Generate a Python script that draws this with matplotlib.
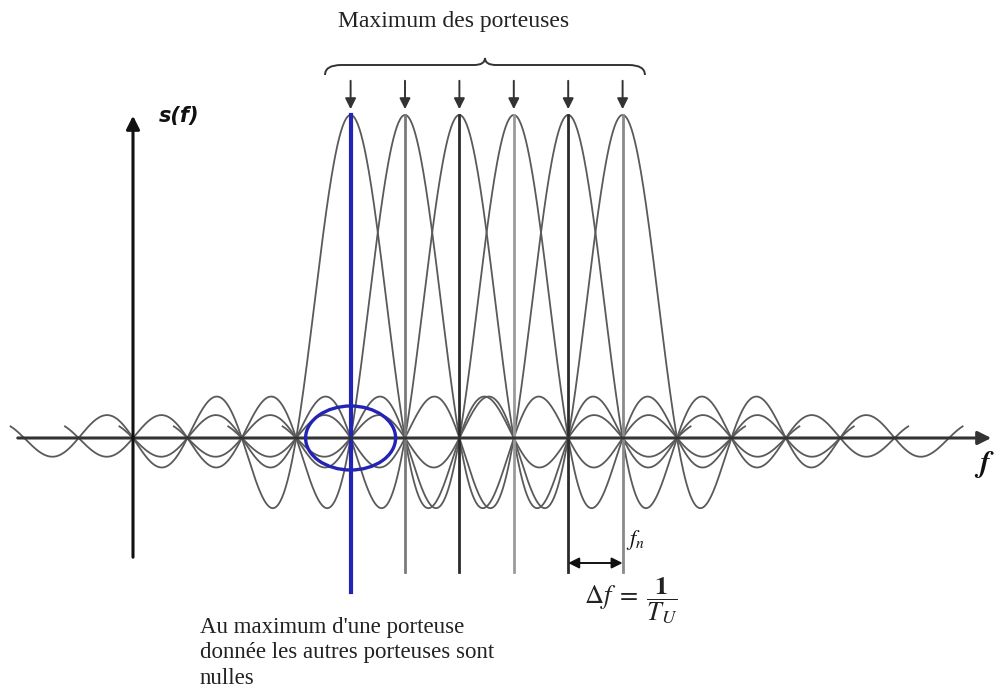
import numpy as np
import matplotlib
matplotlib.use('Agg')
import matplotlib.pyplot as plt
from matplotlib.patches import Ellipse, PathPatch
from matplotlib.path import Path
plt.rcParams['mathtext.fontset'] = 'stix'

# carriers (in units of delta f, origin on the s(f) axis)
carriers = [4, 5, 6, 7, 8, 9]
half_span = 6.25          # each sinc drawn over +/- this many spacings
line_colors = ['#2323b4', '#7a7a7a', '#2b2b2b', '#9a9a9a', '#2b2b2b', '#8a8a8a']
title_txt = 'Maximum des porteuses'
note_txt = "Au maximum d'une porteuse\ndonnée les autres porteuses sont\nnulles"

# pixel geometry of the reference
W, H = 994, 696
X0, DX = 133, 54.4        # x pixel of f=0, pixels per spacing
Y0, AMP = 438, 323        # y pixel of s=0, pixels per unit amplitude

def px(x, y):
    return (x - X0) / DX, (Y0 - y) / AMP

fig = plt.figure(figsize=(W / 100, H / 100), dpi=100)
ax = fig.add_axes([0, 0, 1, 1])
ax.set_xlim(-X0 / DX, (W - X0) / DX)
ax.set_ylim((Y0 - H) / AMP, Y0 / AMP)
ax.axis('off')

# sinc spectra of the carriers
for k in carriers:
    f = np.linspace(k - half_span, k + half_span, 800)
    ax.plot(f, np.sinc(f - k), color='#5a5a5a', lw=1.3, zorder=2)

# vertical lines at each carrier
for i, k in enumerate(carriers):
    bottom = px(0, 592)[1] if i == 0 else px(0, 572)[1]
    ax.plot([k, k], [bottom, 1.0], color=line_colors[i],
            lw=3 if i == 0 else 2, zorder=4 if i == 0 else 3)

# axes with arrows
ax.annotate('', xy=px(994, Y0), xytext=px(15, Y0),
            arrowprops=dict(arrowstyle='-|>', color='#333333', lw=2.2, mutation_scale=20), zorder=5)
ax.annotate('', xy=px(X0, 113), xytext=px(X0, 560),
            arrowprops=dict(arrowstyle='-|>', color='#111111', lw=2.2, mutation_scale=20), zorder=5)

# arrows pointing at carrier maxima
for k in carriers:
    ax.annotate('', xy=(k, px(0, 112)[1]), xytext=(k, px(0, 78)[1]),
                arrowprops=dict(arrowstyle='-|>', color='#333333', lw=1.4, mutation_scale=16))

# brace over the maxima
xl, xr = carriers[0] - 0.47, carriers[-1] + 0.41
xm = (xl + xr) / 2
yb, ye, yt = px(0, 65)[1], px(0, 75)[1], px(0, 58)[1]
verts = [(xl, ye), (xl, yb), (xl + 0.3, yb), (xm - 0.2, yb), (xm, yb), (xm, yt),
         (xm, yb), (xm + 0.2, yb), (xr - 0.3, yb), (xr, yb), (xr, ye)]
codes = [Path.MOVETO, Path.CURVE3, Path.CURVE3, Path.LINETO, Path.CURVE3, Path.CURVE3,
         Path.CURVE3, Path.CURVE3, Path.LINETO, Path.CURVE3, Path.CURVE3]
ax.add_patch(PathPatch(Path(verts, codes), fill=False, ec='#333333', lw=1.4))

# blue ellipse around the first carrier on the axis
ax.add_patch(Ellipse((carriers[0], 0), 90 / DX, 64 / AMP, fill=False,
                     ec='#2323b4', lw=2.4, zorder=6))

# spacing arrow
ya = px(0, 563)[1]
ax.annotate('', xy=(carriers[-1], ya), xytext=(carriers[-2], ya),
            arrowprops=dict(arrowstyle='<|-|>', color='#111111', lw=1.4, mutation_scale=16,
                            shrinkA=0, shrinkB=0))

# texts
serif = 'Liberation Serif'
ax.text(*px(454, 27), title_txt, family=serif, fontsize=17, ha='center', va='baseline', color='#222222')
ax.text(*px(159, 116), 's(f)', family='DejaVu Sans', fontsize=15, fontweight='bold',
        style='italic', ha='left', va='center', color='#111111')
ax.text(*px(984, 465), '$\\boldsymbol{f}$', fontsize=22, ha='center', va='center', color='#111111')
ax.text(*px(626, 540), '$\\boldsymbol{f_n}$', fontsize=16, ha='left', va='center', color='#111111')
ax.text(*px(584, 601), '$\\Delta f\\;=\\;\\dfrac{\\mathbf{1}}{T_U}$', fontsize=19,
        ha='left', va='center', color='#222222')
ax.text(*px(200, 617), note_txt, family=serif, fontsize=16.5, ha='left', va='top',
        linespacing=1.28, color='#222222')

fig.savefig('out.png', dpi=100)
